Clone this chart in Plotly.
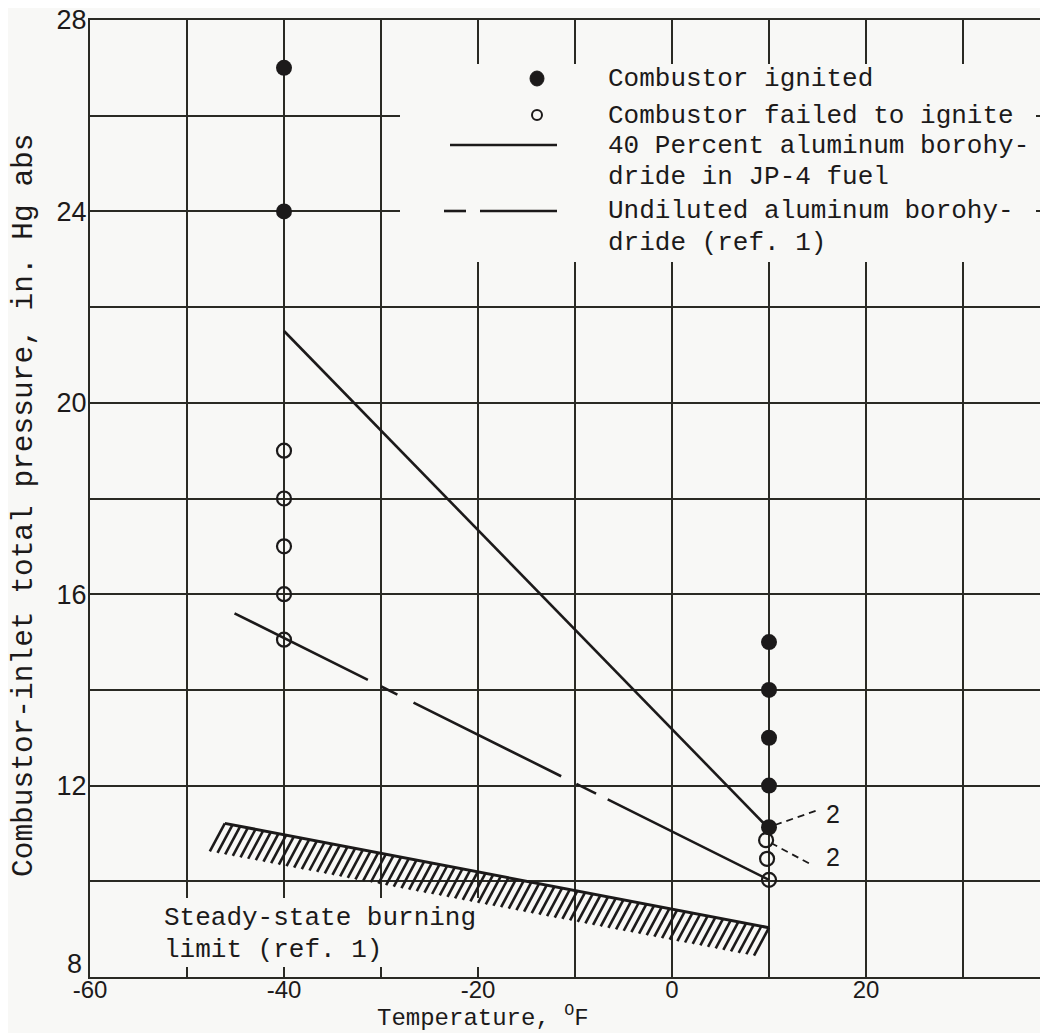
import numpy as np
import plotly.graph_objects as go

# ---------------- data ----------------
ignited_temp = [-40, -40, 10, 10, 10, 10, 10]
ignited_pressure = [27.0, 24.0, 15.0, 14.0, 13.0, 12.0, 11.13]

failed_temp = [-40, -40, -40, -40, -40, 9.7, 9.8, 10]
failed_pressure = [19.0, 18.0, 17.0, 16.0, 15.05, 10.86, 10.47, 10.03]

blend_temp = [-40, 10]          # 40 percent aluminum borohydride in JP-4
blend_pressure = [21.5, 11.1]

undiluted_temp = [-45.1, 10]    # undiluted aluminum borohydride (ref. 1)
undiluted_pressure = [15.6, 10.03]

limit_temp = [-46.1, 10]        # steady-state burning limit (ref. 1)
limit_pressure = [11.21, 9.03]

x_tick_vals = [-60, -50, -40, -30, -20, -10, 0, 10, 20, 30]
x_tick_text = ["-60", "", "-40", "", "-20", "", "0", "", "20", ""]
y_tick_vals = [8, 10, 12, 14, 16, 18, 20, 22, 24, 26, 28]
y_tick_text = ["", "", "12", "", "16", "", "20", "", "24", "", "28"]
y_bottom_label = "8"

legend_labels = [
    "Combustor ignited",
    "Combustor failed to ignite",
    "40 Percent aluminum borohy-",
    "dride in JP-4 fuel",
    "Undiluted aluminum borohy-",
    "dride (ref. 1)",
]

# ---------------- geometry / style ----------------
W, H = 1048, 1033
OFF = 8                                   # page body margin
PL, PR, PT, PB = 90, 1048, 20, 977        # plot area in viewport pixels
X_RANGE = [-60, -60 + (PR - PL) / 9.7]
Y_RANGE = [8, 28]
INK = "#1c1a1a"
GRID = "#2a2a24"
BG = "#f8f8f6"
MONO = "Liberation Mono, Courier New, monospace"
SANS = "Liberation Sans, Arial, sans-serif"


def px_x(px):
    return X_RANGE[0] + (px - PL) * (X_RANGE[1] - X_RANGE[0]) / (PR - PL)


def px_y(py):
    return Y_RANGE[1] - (py - PT) * (Y_RANGE[1] - Y_RANGE[0]) / (PB - PT)


def paper_x(px):
    return (px - PL) / (PR - PL)


def paper_y(py):
    return (PB - py) / (PB - PT)


fig = go.Figure()

# steady-state burning limit line with hatching underneath
fig.add_trace(go.Scatter(x=limit_temp, y=limit_pressure, mode="lines",
                         line=dict(color=INK, width=3), showlegend=False,
                         hoverinfo="skip"))
n_hatch = 72
hx = np.linspace(limit_temp[0], limit_temp[1], n_hatch)
hy = np.interp(hx, limit_temp, limit_pressure)
dx = -15 / 9.7
dy = -28 / 47.85
hatch_x, hatch_y = [], []
for a, b in zip(hx, hy):
    hatch_x += [a, a + dx, None]
    hatch_y += [b, b + dy, None]
fig.add_trace(go.Scatter(x=hatch_x, y=hatch_y, mode="lines",
                         line=dict(color=INK, width=2.6), showlegend=False,
                         hoverinfo="skip"))

# lines
fig.add_trace(go.Scatter(x=blend_temp, y=blend_pressure, mode="lines",
                         name=legend_labels[2],
                         line=dict(color=INK, width=2.6), showlegend=False))
fig.add_trace(go.Scatter(x=undiluted_temp, y=undiluted_pressure, mode="lines",
                         name=legend_labels[4],
                         line=dict(color=INK, width=2.6,
                                   dash="149px,15px,18px,18px,165px,17px,22px,13px,200px"),
                         showlegend=False))

# points
fig.add_trace(go.Scatter(x=failed_temp, y=failed_pressure, mode="markers",
                         name=legend_labels[1],
                         marker=dict(symbol="circle-open", size=14, color=INK,
                                     line=dict(width=2.2, color=INK)),
                         showlegend=False))
fig.add_trace(go.Scatter(x=ignited_temp, y=ignited_pressure, mode="markers",
                         name=legend_labels[0],
                         marker=dict(symbol="circle", size=16, color=INK,
                                     line=dict(width=0)),
                         showlegend=False))

shapes = []
annotations = []

# blank boxes hiding the grid behind legend and the note text
shapes.append(dict(type="rect", layer="between", xref="x", yref="y",
                   x0=px_x(400), x1=px_x(1036), y0=px_y(64), y1=px_y(262),
                   fillcolor=BG, line=dict(width=0)))
shapes.append(dict(type="rect", layer="between", xref="x", yref="y",
                   x0=px_x(156), x1=px_x(500), y0=px_y(898), y1=px_y(967),
                   fillcolor=BG, line=dict(width=0)))

# custom legend
shapes.append(dict(type="circle", xref="x", yref="y", layer="above",
                   x0=px_x(530), x1=px_x(544), y0=px_y(71), y1=px_y(86),
                   fillcolor=INK, line=dict(color=INK, width=1)))
shapes.append(dict(type="circle", xref="x", yref="y", layer="above",
                   x0=px_x(532), x1=px_x(542), y0=px_y(110), y1=px_y(120),
                   fillcolor="rgba(0,0,0,0)", line=dict(color=INK, width=2)))
shapes.append(dict(type="line", xref="x", yref="y", layer="above",
                   x0=px_x(450), x1=px_x(557), y0=px_y(145), y1=px_y(145),
                   line=dict(color=INK, width=2.6)))
shapes.append(dict(type="line", xref="x", yref="y", layer="above",
                   x0=px_x(444), x1=px_x(466), y0=px_y(211), y1=px_y(211),
                   line=dict(color=INK, width=2.6)))
shapes.append(dict(type="line", xref="x", yref="y", layer="above",
                   x0=px_x(480), x1=px_x(557), y0=px_y(211), y1=px_y(211),
                   line=dict(color=INK, width=2.6)))
legend_rows_y = [79, 116, 146, 177, 211, 243]
for text, ry in zip(legend_labels, legend_rows_y):
    annotations.append(dict(x=px_x(606), y=px_y(ry), xref="x", yref="y",
                            text=text, showarrow=False, xanchor="left",
                            yanchor="middle",
                            font=dict(family=MONO, size=26, color=INK)))

# "2" notes with dashed leaders
shapes.append(dict(type="line", xref="x", yref="y", layer="above",
                   x0=px_x(775), y0=px_y(825), x1=px_x(818), y1=px_y(810),
                   line=dict(color=INK, width=1.8, dash="7px,5px")))
shapes.append(dict(type="line", xref="x", yref="y", layer="above",
                   x0=px_x(771), y0=px_y(843), x1=px_x(812), y1=px_y(865),
                   line=dict(color=INK, width=1.8, dash="7px,5px")))
for ry in (814, 857):
    annotations.append(dict(x=px_x(824), y=px_y(ry), xref="x", yref="y",
                            text="2", showarrow=False, xanchor="left",
                            yanchor="middle",
                            font=dict(family=SANS, size=25, color=INK)))

# steady-state burning limit note
for text, ry in (("Steady-state burning", 918), ("limit (ref. 1)", 950)):
    annotations.append(dict(x=px_x(162), y=px_y(ry), xref="x", yref="y",
                            text=text, showarrow=False, xanchor="left",
                            yanchor="middle",
                            font=dict(family=MONO, size=26, color=INK)))

# raised bottom y label
annotations.append(dict(x=paper_x(84), y=paper_y(964), xref="paper",
                        yref="paper", text=y_bottom_label, showarrow=False,
                        xanchor="right", yanchor="middle",
                        font=dict(family=SANS, size=27, color=INK)))

# axis titles
annotations.append(dict(x=paper_x(375), y=paper_y(1016), xref="paper",
                        yref="paper", text="Temperature, <sup>O</sup>F",
                        showarrow=False, xanchor="left", yanchor="middle",
                        font=dict(family=MONO, size=24, color=INK)))
annotations.append(dict(x=paper_x(24), y=paper_y(505), xref="paper",
                        yref="paper",
                        text="Combustor-inlet total pressure, in. Hg abs",
                        textangle=-90, showarrow=False, xanchor="center",
                        yanchor="middle",
                        font=dict(family=MONO, size=29.5, color=INK)))

fig.update_layout(
    width=W, height=H,
    margin=dict(l=PL - OFF, r=W - (PR - OFF), t=PT - OFF,
                b=H - (PB - OFF), pad=0, autoexpand=False),
    paper_bgcolor=BG, plot_bgcolor=BG,
    showlegend=False,
    shapes=shapes,
    annotations=annotations,
    xaxis=dict(range=X_RANGE, tickmode="array", tickvals=x_tick_vals,
               ticktext=x_tick_text, ticks="", ticklen=0, showgrid=True,
               gridcolor=GRID, gridwidth=1.6, zeroline=False, automargin=False,
               showline=True, linecolor=GRID, linewidth=2, mirror=True,
               ticklabelstandoff=-10, ticklabeloverflow="allow",
               tickfont=dict(family=SANS, size=24, color=INK)),
    yaxis=dict(range=Y_RANGE, tickmode="array", tickvals=y_tick_vals,
               ticktext=y_tick_text, ticks="", ticklen=0, showgrid=True,
               gridcolor=GRID, gridwidth=1.6, zeroline=False, automargin=False,
               showline=True, linecolor=GRID, linewidth=2,
               ticklabelstandoff=-4, ticklabeloverflow="allow",
               tickfont=dict(family=SANS, size=27, color=INK)),
)

fig.write_html("out.html", config={"displayModeBar": False})
